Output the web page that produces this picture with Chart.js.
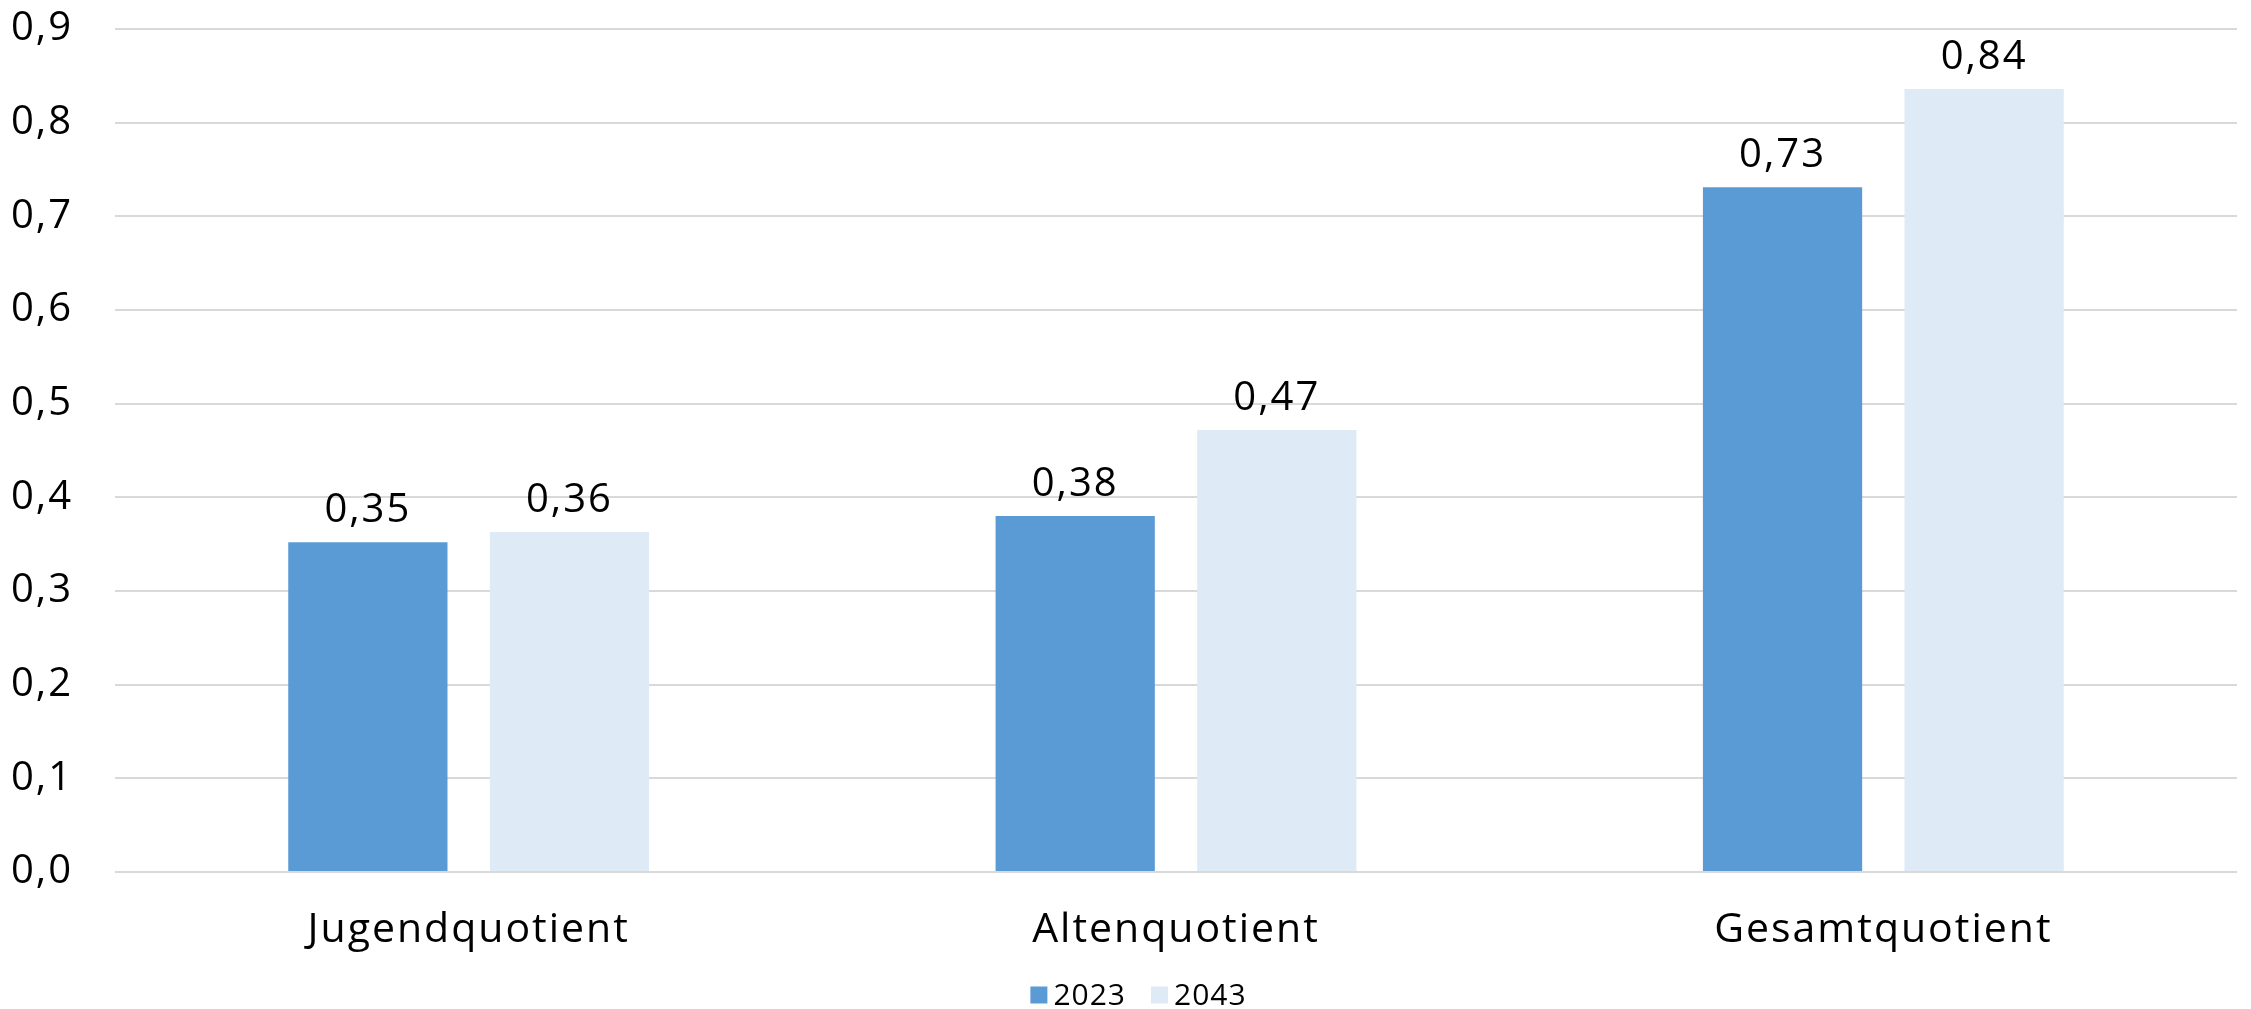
<!DOCTYPE html>
<html>
<head>
<meta charset="utf-8">
<script src="https://cdn.jsdelivr.net/npm/chart.js@4.4.1/dist/chart.umd.min.js"></script>
<style>
  html, body { margin: 0; padding: 0; background: #ffffff; }
  #wrap { width: 2251px; height: 1009px; position: relative; }
</style>
</head>
<body>
<div id="wrap"><canvas id="c" width="2251" height="1009"></canvas></div>
<script>
const categories = ["Jugendquotient", "Altenquotient", "Gesamtquotient"];
const seriesNames = ["2023", "2043"];
const values2023 = [0.352, 0.380, 0.731];
const values2043 = [0.363, 0.472, 0.836];
const yTicks = [0.0, 0.1, 0.2, 0.3, 0.4, 0.5, 0.6, 0.7, 0.8, 0.9];

const FONT = "'Open Sans', 'DejaVu Sans', sans-serif";
const fmt = (v, d) => v.toFixed(d).replace('.', ',');

const spacing = {
  id: 'spacing',
  beforeDraw(chart) { chart.ctx.letterSpacing = '2px'; }
};

const dataLabels = {
  id: 'dataLabels',
  afterDatasetsDraw(chart) {
    const ctx = chart.ctx;
    ctx.save();
    ctx.font = "40px " + FONT;
    ctx.fillStyle = '#000000';
    ctx.textAlign = 'center';
    ctx.textBaseline = 'alphabetic';
    chart.data.datasets.forEach((ds, di) => {
      const meta = chart.getDatasetMeta(di);
      meta.data.forEach((bar, i) => {
        ctx.fillText(fmt(ds.data[i], 2), bar.x, bar.y - 20);
      });
    });
    ctx.restore();
  }
};

// Legend drawn as a Chart.js plugin from the dataset labels and colours
const bottomLegend = {
  id: 'bottomLegend',
  afterDraw(chart) {
    const ctx = chart.ctx;
    ctx.save();
    ctx.font = "30px " + FONT;
    ctx.letterSpacing = '1px';
    ctx.textBaseline = 'middle';
    ctx.textAlign = 'left';
    const box = 17, gapText = 6, gapItem = 25;
    const items = chart.data.datasets.map(ds => ({
      text: ds.label, color: ds.backgroundColor, w: ctx.measureText(ds.label).width
    }));
    let total = 0;
    items.forEach((it, i) => { total += box + gapText + it.w + (i < items.length - 1 ? gapItem : 0); });
    let x = chart.width / 2 + 13 - total / 2;
    const cy = 995;
    items.forEach(it => {
      ctx.fillStyle = it.color;
      ctx.fillRect(x, cy - box / 2, box, box);
      ctx.fillStyle = '#000000';
      ctx.fillText(it.text, x + box + gapText, cy + 1);
      x += box + gapText + it.w + gapItem;
    });
    ctx.restore();
  }
};

new Chart(document.getElementById('c'), {
  type: 'bar',
  data: {
    labels: categories,
    datasets: [
      { label: seriesNames[0], data: values2023, backgroundColor: '#5B9BD5', borderWidth: 0,
        categoryPercentage: 0.57, barPercentage: 0.79 },
      { label: seriesNames[1], data: values2043, backgroundColor: '#DEEAF6', borderWidth: 0,
        categoryPercentage: 0.57, barPercentage: 0.79 }
    ]
  },
  options: {
    responsive: false,
    animation: false,
    devicePixelRatio: 1,
    layout: { padding: { top: 29, right: 14, left: 0, bottom: 39 } },
    plugins: {
      legend: { display: false },
      tooltip: { enabled: false },
      title: { display: false }
    },
    scales: {
      x: {
        grid: { display: false, drawTicks: false },
        border: { display: false },
        ticks: { color: '#000000', font: { family: FONT, size: 41 }, padding: 34 },
        afterFit(scale) { scale.height = 98; }
      },
      y: {
        min: 0, max: 0.9,
        afterBuildTicks(scale) { scale.ticks = yTicks.map(v => ({ value: v })); },
        grid: { color: '#D9D9D9', lineWidth: 2, drawTicks: false },
        border: { display: false },
        ticks: {
          color: '#000000', font: { family: FONT, size: 40 }, padding: 42,
          callback: (v) => fmt(v, 1)
        },
        afterFit(scale) { scale.width = 115; scale.paddingTop = 0; scale.paddingBottom = 0; }
      }
    }
  },
  plugins: [spacing, dataLabels, bottomLegend]
});
</script>
</body>
</html>
